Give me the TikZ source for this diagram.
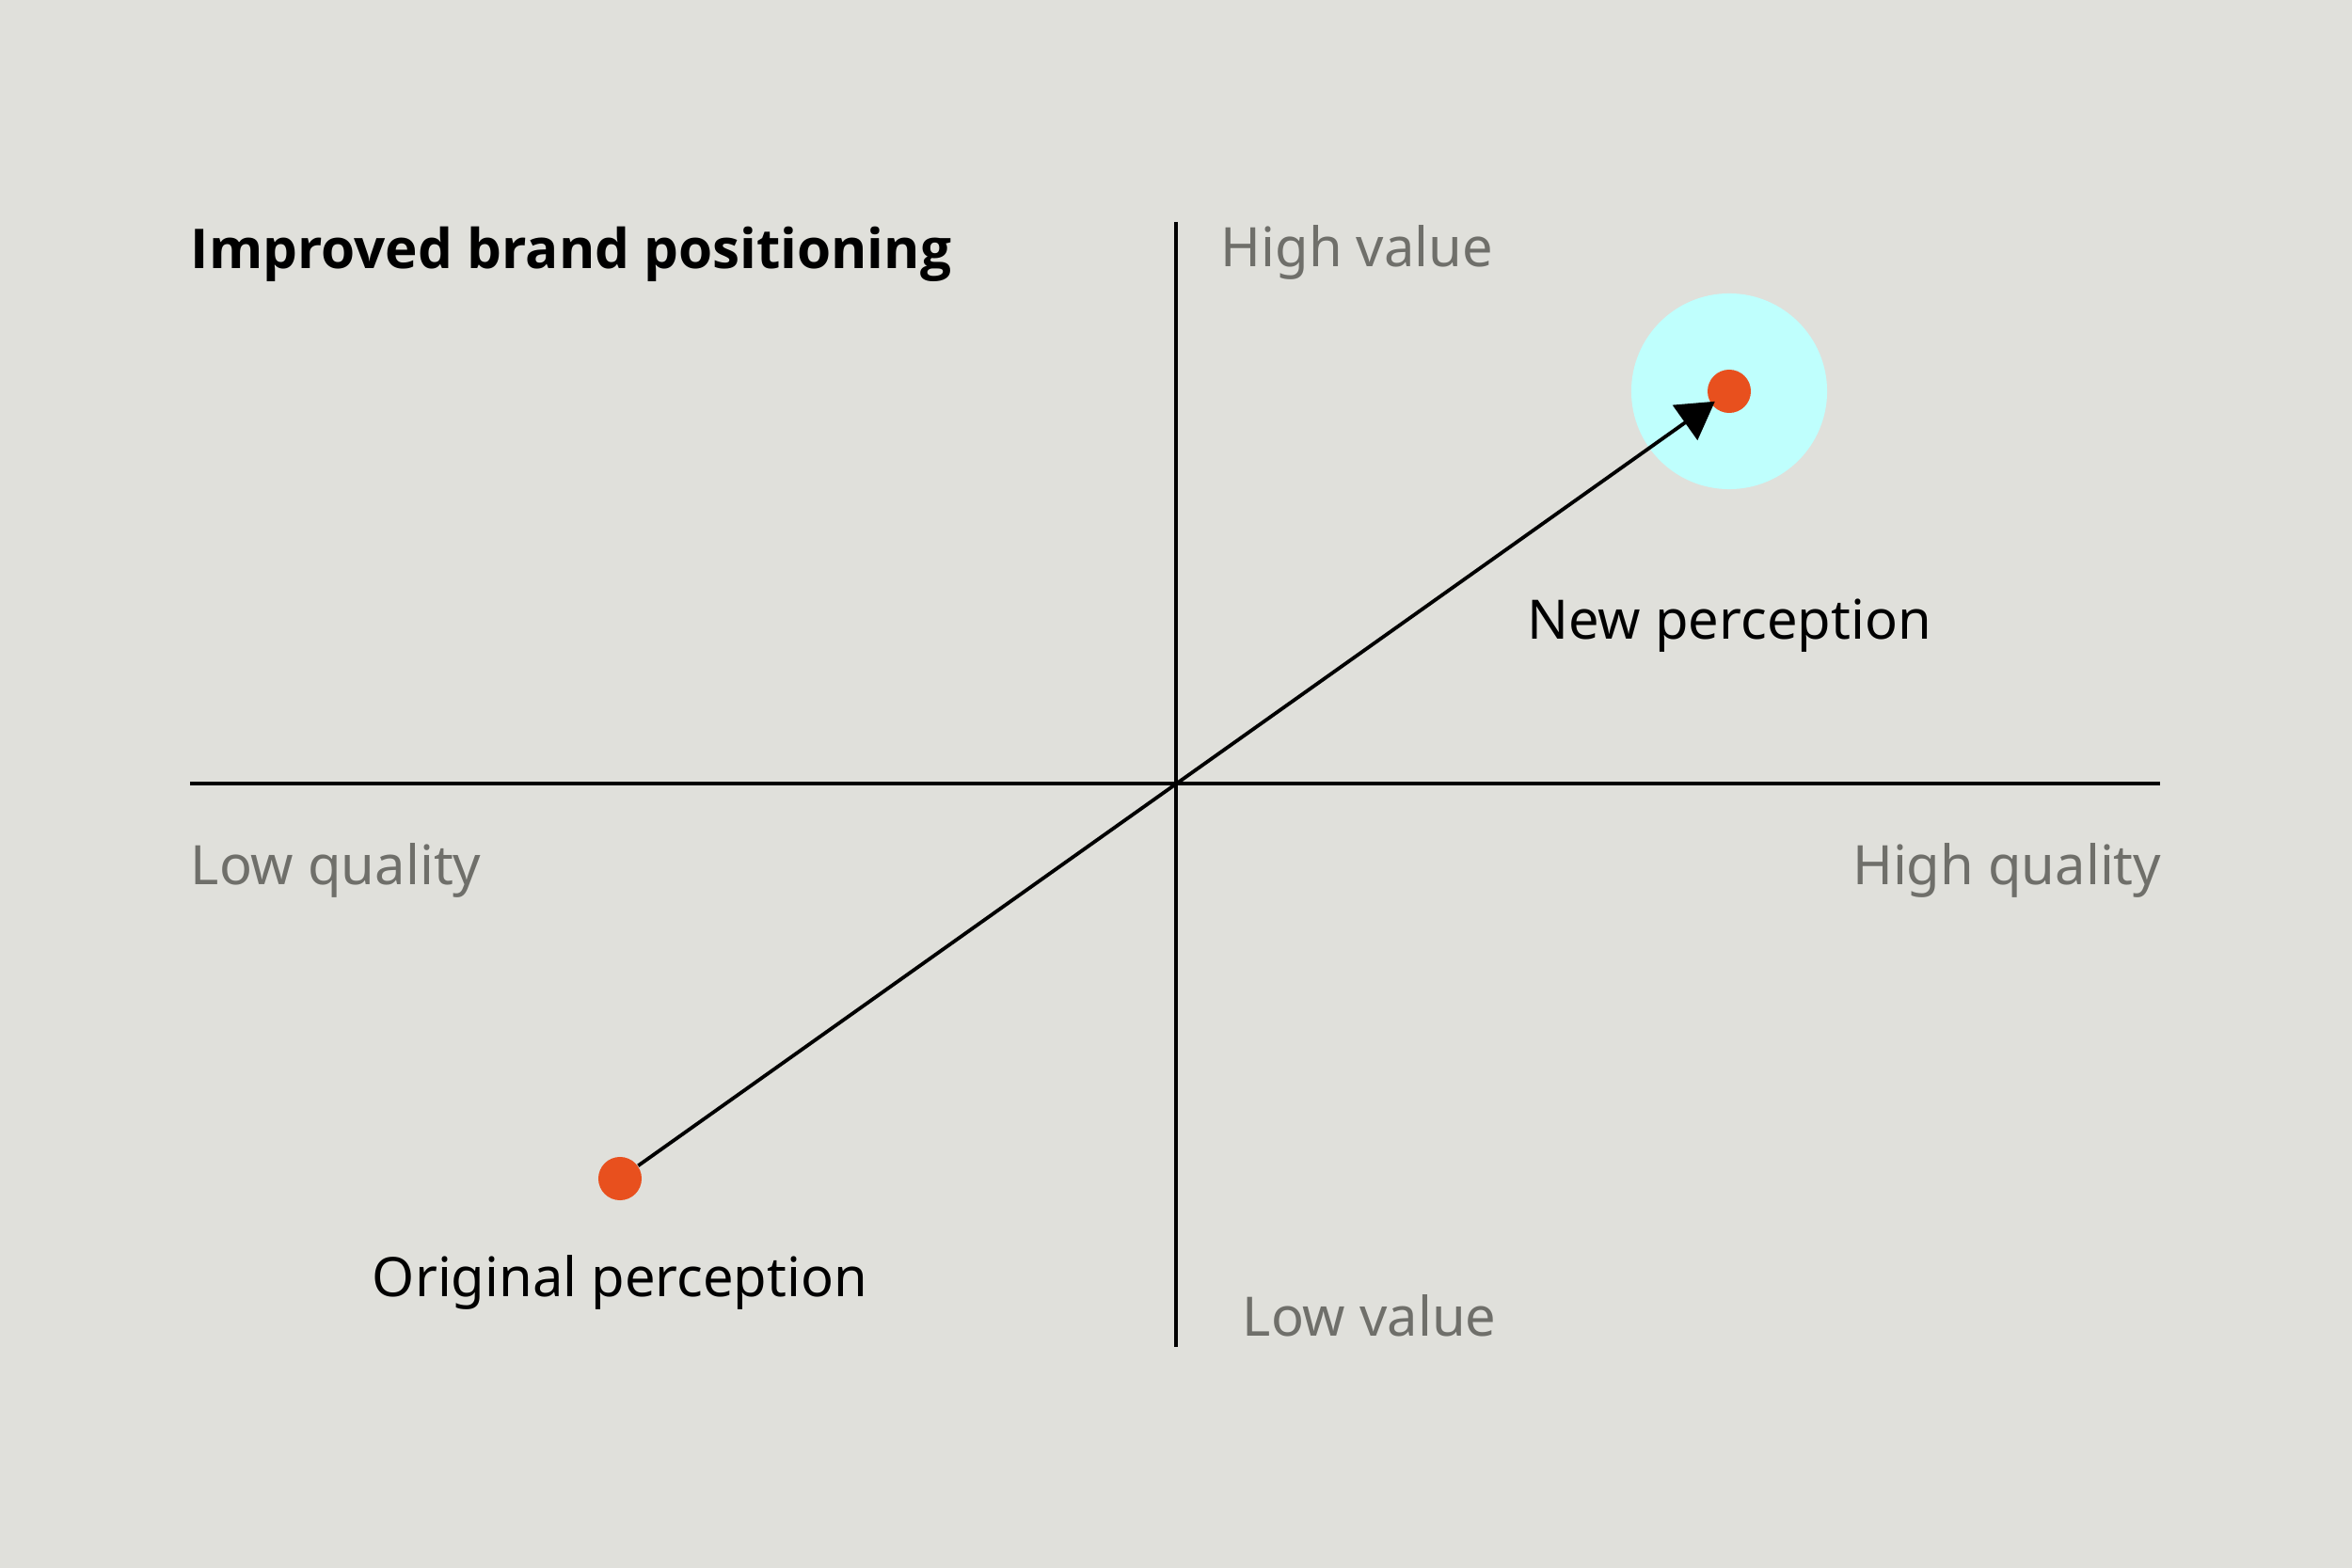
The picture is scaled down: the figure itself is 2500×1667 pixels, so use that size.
\documentclass[tikz,border=0pt]{standalone}
\usepackage{fontspec}
\setmainfont{Noto Sans}
\newfontfamily\titlefont{Open Sans}
\usetikzlibrary{arrows.meta,calc}
\definecolor{bg}{HTML}{E0E0DB}
\definecolor{dotc}{HTML}{E8501E}
\definecolor{halo}{HTML}{BFFFFD}
\definecolor{axlab}{HTML}{6F6F6A}
\begin{document}
\begin{tikzpicture}[x=0.01cm,y=-0.01cm,
  txt/.style={inner sep=0pt,anchor=base west,font=\fontsize{16.45}{20}\selectfont},
  axislabel/.style={txt,text=axlab},
  pointlabel/.style={txt,anchor=base,text=black},
  dotnode/.style={circle,fill=dotc,inner sep=0pt,minimum size=0.46cm},
  halonode/.style={circle,fill=halo,inner sep=0pt,minimum size=2.08cm},
  axisline/.style={line width=0.032cm,black},
  arrowline/.style={line width=0.038cm,black,-{Triangle[length=0.39cm,width=0.45cm]}}]
\fill[bg] (0,0) rectangle (2500,1667);
\useasboundingbox (0,0) rectangle (2500,1667);
% axes
\coordinate (vtop) at (1250,236);
\coordinate (vbot) at (1250,1432);
\coordinate (hleft) at (202,833);
\coordinate (hright) at (2296,833);
\draw[axisline] (vtop) -- (vbot);
\draw[axisline] (hleft) -- (hright);
% title and axis labels
\node[txt,font=\titlefont\fontsize{16.6}{20}\selectfont\bfseries] (title) at (202,286) {Improved brand positioning};
\node[axislabel] (hv) at (1297,284) {High value};
\node[axislabel] (lv) at (1320,1420) {Low value};
\node[axislabel] (lq) at (202,940) {Low quality};
\node[axislabel,anchor=base east] (hq) at (2298,940) {High quality};
% points
\node[halonode] (halo) at (1838,416) {};
\node[dotnode] (new) at (1838,416) {};
\node[dotnode] (orig) at (659,1253) {};
\draw[arrowline,shorten >=0.186cm] (orig) -- (new.center);
% point labels
\node[pointlabel] (newlab) at (1838,679) {New perception};
\node[pointlabel] (origlab) at (659,1378) {Original perception};
\end{tikzpicture}
\end{document}
